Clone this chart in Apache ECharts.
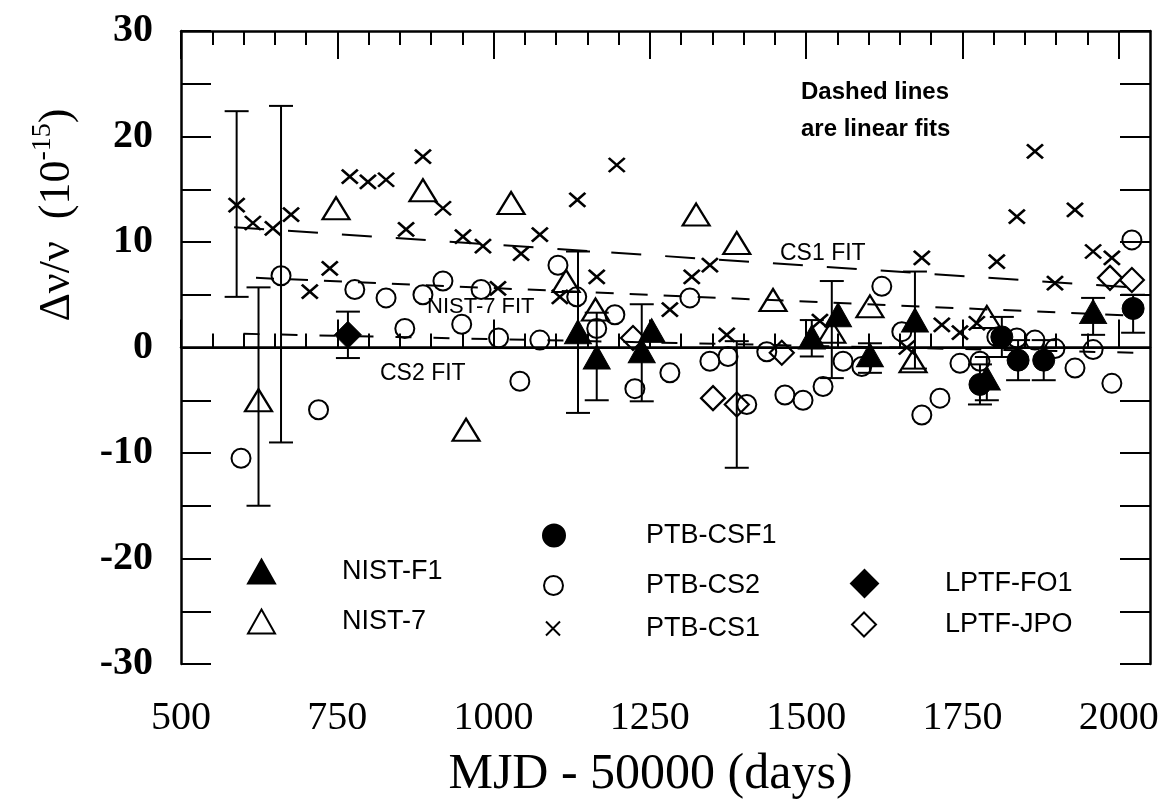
<!DOCTYPE html>
<html>
<head>
<meta charset="utf-8">
<script src="https://cdn.jsdelivr.net/npm/echarts@6/dist/echarts.min.js"></script>
<style>
  html, body { margin: 0; padding: 0; background: #fff; }
  #chart { width: 1164px; height: 801px; }
</style>
</head>
<body>
<div id="chart"></div>
<script>
// Fractional frequency offsets (units of 1e-15) against MJD - 50000
const nistF1 = [[1135,1.5],[1165,-0.9],[1237,-0.3],[1253,1.6],[1509,1.0],[1551,3.1],[1602,-0.7],[1674,2.6],[1789,-2.9],[1959,3.4]];
const nist7 = [[624,-5.0],[748,13.2],[887,14.9],[956,-7.8],[1028,13.7],[1116,6.3],[1163,3.6],[1324,12.6],[1389,9.9],[1447,4.5],[1541,1.5],[1602,3.9],[1671,-1.3],[1789,2.9]];
const ptbCSF1 = [[1778,-3.5],[1813,1.0],[1839,-1.2],[1880,-1.2],[2023,3.7]];
const ptbCS2 = [[596,-10.5],[660,6.8],[720,-5.9],[778,5.5],[828,4.7],[858,1.8],[887,5.0],[919,6.3],[949,2.2],[980,5.5],[1008,0.9],[1042,-3.2],[1074,0.7],[1103,7.8],[1133,4.8],[1165,1.8],[1194,3.1],[1226,-3.9],[1282,-2.4],[1314,4.7],[1346,-1.3],[1375,-0.85],[1405,-5.4],[1437,-0.4],[1466,-4.5],[1495,-5.0],[1527,-3.7],[1559,-1.3],[1589,-1.8],[1621,5.8],[1653,1.5],[1685,-6.4],[1714,-4.8],[1746,-1.5],[1778,-1.3],[1805,1.0],[1837,0.9],[1866,0.7],[1898,-0.1],[1930,-1.95],[1959,-0.2],[1989,-3.4],[2021,10.2]];
const ptbCS1 = [[589,13.5],[615,11.8],[647,11.3],[676,12.6],[706,5.3],[738,7.5],[770,16.2],[799,15.7],[828,15.9],[860,11.2],[887,18.1],[919,13.2],[951,10.5],[983,9.6],[1007,5.6],[1044,8.9],[1074,10.7],[1106,4.8],[1134,14.0],[1165,6.7],[1197,17.3],[1282,3.6],[1317,6.7],[1346,7.8],[1373,1.2],[1522,2.5],[1661,0.0],[1685,8.5],[1717,2.15],[1746,1.4],[1773,2.3],[1805,8.15],[1837,12.4],[1866,18.6],[1898,6.1],[1930,13.05],[1959,9.1],[1989,8.5]];
const lptfFO1 = [[767,1.2]];
const lptfJPO = [[1223,0.9],[1351,-4.8],[1389,-5.4],[1461,-0.5],[1986,6.6],[2021,6.4]];

// Uncertainty bars: [MJD, low, high]
const nistF1Err = [[1135,-6.2,9.1],[1165,-5.0,3.3],[1237,-5.1,4.1],[1509,-0.85,2.6],[1602,-2.4,0.4],[1674,-2.0,7.2],[1789,-5.0,-0.9],[1959,1.2,4.7]];
const nist7Err = [[624,-15.0,5.7],[1541,-2.9,6.3]];
const ptbCSF1Err = [[1778,-5.4,-1.6],[1813,-0.9,2.9],[1839,-3.1,0.7],[1880,-3.1,0.7],[2023,1.4,5.0]];
const ptbCS2Err = [[660,-9.0,22.9]];
const ptbCS1Err = [[589,4.8,22.4]];
const lptfFO1Err = [[767,-1.0,3.4]];
const lptfJPOErr = [[1389,-11.4,0.6]];

// Linear fits: [start, end]
const cs1Fit = [[585,11.4],[2045,5.6]];
const nist7Fit = [[620,6.6],[2030,3.0]];
const cs2Fit = [[600,1.3],[2030,-0.5]];

// Axis ticks
const xMajor = [500,750,1000,1250,1500,1750,2000];
const xMinor = [];
for (let v = 550; v < 2050; v += 50) if (v % 250 !== 0) xMinor.push(v);

const K = '#000';
const hollow = 'rgba(0,0,0,0)';
const crossPath = 'path://M0,0L10,10M10,0L0,10';

function errRender(params, api) {
  const x = api.value(0), lo = api.value(1), hi = api.value(2);
  const a = api.coord([x, lo]), b = api.coord([x, hi]);
  const w = 12;
  const style = { stroke: K, lineWidth: 2 };
  return { type: 'group', children: [
    { type: 'line', shape: { x1: a[0], y1: a[1], x2: b[0], y2: b[1] }, style },
    { type: 'line', shape: { x1: a[0] - w, y1: a[1], x2: a[0] + w, y2: a[1] }, style },
    { type: 'line', shape: { x1: b[0] - w, y1: b[1], x2: b[0] + w, y2: b[1] }, style }
  ]};
}

const allErr = [].concat(nistF1Err, nist7Err, ptbCSF1Err, ptbCS2Err, ptbCS1Err, lptfFO1Err, lptfJPOErr);

function fitLine(name, data, dash) {
  return { name, type: 'line', data, showSymbol: false, symbol: 'none', silent: true,
    lineStyle: { color: K, width: 2, type: dash, opacity: 1 }, z: 1 };
}

const legendFont = { fontFamily: 'Liberation Sans', fontSize: 27, color: K };
function legendItem(name, left, top, w, h, pad) {
  return { data: [name], left, top, itemWidth: w, itemHeight: h, selectedMode: false,
    formatter: n => '{t|' + n + '}',
    textStyle: { rich: { t: Object.assign({ padding: [0, 0, 0, pad] }, legendFont) } } };
}

const axisLineStyle = { color: K, width: 2.5 };
const tickStyle = { color: K, width: 2 };

function xAxisPair(position, labels) {
  return [
    { type: 'value', position, min: 500, max: 2050, interval: 250,
      axisLine: { show: true, lineStyle: axisLineStyle },
      axisTick: { show: true, inside: true, length: 28, lineStyle: tickStyle, customValues: xMajor },
      axisLabel: { show: labels, customValues: xMajor, fontFamily: 'Liberation Serif', fontSize: 40, color: K, margin: 34,
        formatter: v => String(v) },
      splitLine: { show: false },
      name: labels ? 'MJD - 50000 (days)' : '', nameLocation: 'middle', nameGap: 86,
      nameTextStyle: { fontFamily: 'Liberation Serif', fontSize: 50, color: K, padding: [0, 30, 0, 0] } },
    { type: 'value', position, min: 500, max: 2050, interval: 250,
      axisLine: { show: false },
      axisTick: { show: true, inside: true, length: 14, lineStyle: tickStyle, customValues: xMinor },
      axisLabel: { show: false }, splitLine: { show: false } }
  ];
}

function yAxis(position, labels) {
  return { type: 'value', position, min: -30, max: 30, interval: 5,
    axisLine: { show: true, lineStyle: axisLineStyle },
    axisTick: { show: true, inside: true, length: 30, lineStyle: tickStyle },
    axisLabel: { show: labels, fontFamily: 'Liberation Serif', fontWeight: 'bold', fontSize: 40, color: K, margin: 28,
      formatter: v => (v % 10 === 0 ? String(v) : '') },
    splitLine: { show: false } };
}

function marks(name, data, symbol, size, fill, border) {
  return { name, type: 'scatter', data, symbol, symbolSize: size, z: 4,
    itemStyle: { color: fill, borderColor: K, borderWidth: border, opacity: 1 },
    emphasis: { disabled: true } };
}

const chart = echarts.init(document.getElementById('chart'), null, { renderer: 'canvas' });
chart.setOption({
  animation: false,
  backgroundColor: '#fff',
  grid: { left: 181, right: 14, top: 31, bottom: 137, outerBoundsMode: 'none', containLabel: false },
  xAxis: [].concat(xAxisPair('bottom', true), xAxisPair('top', false)),
  yAxis: [yAxis('left', true), yAxis('right', false)],
  legend: [
    legendItem('NIST-F1', 242, 553, 27, 24, 62),
    legendItem('NIST-7', 242, 603, 27, 24, 62),
    legendItem('PTB-CSF1', 537, 517, 22, 22, 76),
    legendItem('PTB-CS2', 538, 567, 19, 19, 78),
    legendItem('PTB-CS1', 540, 610, 16, 14, 80),
    legendItem('LPTF-FO1', 845, 564, 27, 27, 62),
    legendItem('LPTF-JPO', 846, 606, 24, 24, 64)
  ],
  graphic: [
    { type: 'text', x: 57, y: 215, rotation: Math.PI / 2,
      style: { text: '{a|Δν/ν  (10}{s|-15}{a|)}', align: 'center', verticalAlign: 'middle',
        rich: { a: { fontFamily: 'Liberation Serif', fontSize: 44, lineHeight: 56, fill: K },
                s: { fontFamily: 'Liberation Serif', fontSize: 28, lineHeight: 28, verticalAlign: 'top', fill: K } } } },
    { type: 'text', left: 801, top: 80, style: { text: 'Dashed lines', font: 'bold 24px "Liberation Sans"', fill: K } },
    { type: 'text', left: 801, top: 117, style: { text: 'are linear fits', font: 'bold 24px "Liberation Sans"', fill: K } },
    { type: 'text', left: 780, top: 242, style: { text: 'CS1 FIT', font: '23px "Liberation Sans"', fill: K } },
    { type: 'text', left: 427, top: 296, style: { text: 'NIST-7 FIT', font: '22px "Liberation Sans"', fill: K } },
    { type: 'text', left: 380, top: 362, style: { text: 'CS2 FIT', font: '23px "Liberation Sans"', fill: K } }
  ],
  series: [
    { name: 'zero', type: 'line', data: [], silent: true,
      markLine: { symbol: 'none', silent: true, label: { show: false },
        lineStyle: { color: K, width: 2, type: 'solid', opacity: 1 }, data: [{ yAxis: 0 }] } },
    fitLine('CS1 FIT', cs1Fit, [30, 24]),
    fitLine('NIST-7 FIT', nist7Fit, [18, 16]),
    fitLine('CS2 FIT', cs2Fit, [16, 22]),
    { name: 'uncertainty', type: 'custom', renderItem: errRender, data: allErr,
      encode: { x: 0, y: [1, 2] }, silent: true, z: 2 },
    marks('NIST-F1', nistF1, 'triangle', [27, 24], K, 1),
    marks('NIST-7', nist7, 'triangle', [27, 22], hollow, 2.2),
    marks('PTB-CSF1', ptbCSF1, 'circle', 22, K, 1),
    marks('PTB-CS2', ptbCS2, 'circle', 19, hollow, 2),
    marks('PTB-CS1', ptbCS1, crossPath, [16, 14], hollow, 2.6),
    marks('LPTF-FO1', lptfFO1, 'diamond', [27, 27], K, 1),
    marks('LPTF-JPO', lptfJPO, 'diamond', [24, 24], hollow, 2.2)
  ]
});
</script>
</body>
</html>
